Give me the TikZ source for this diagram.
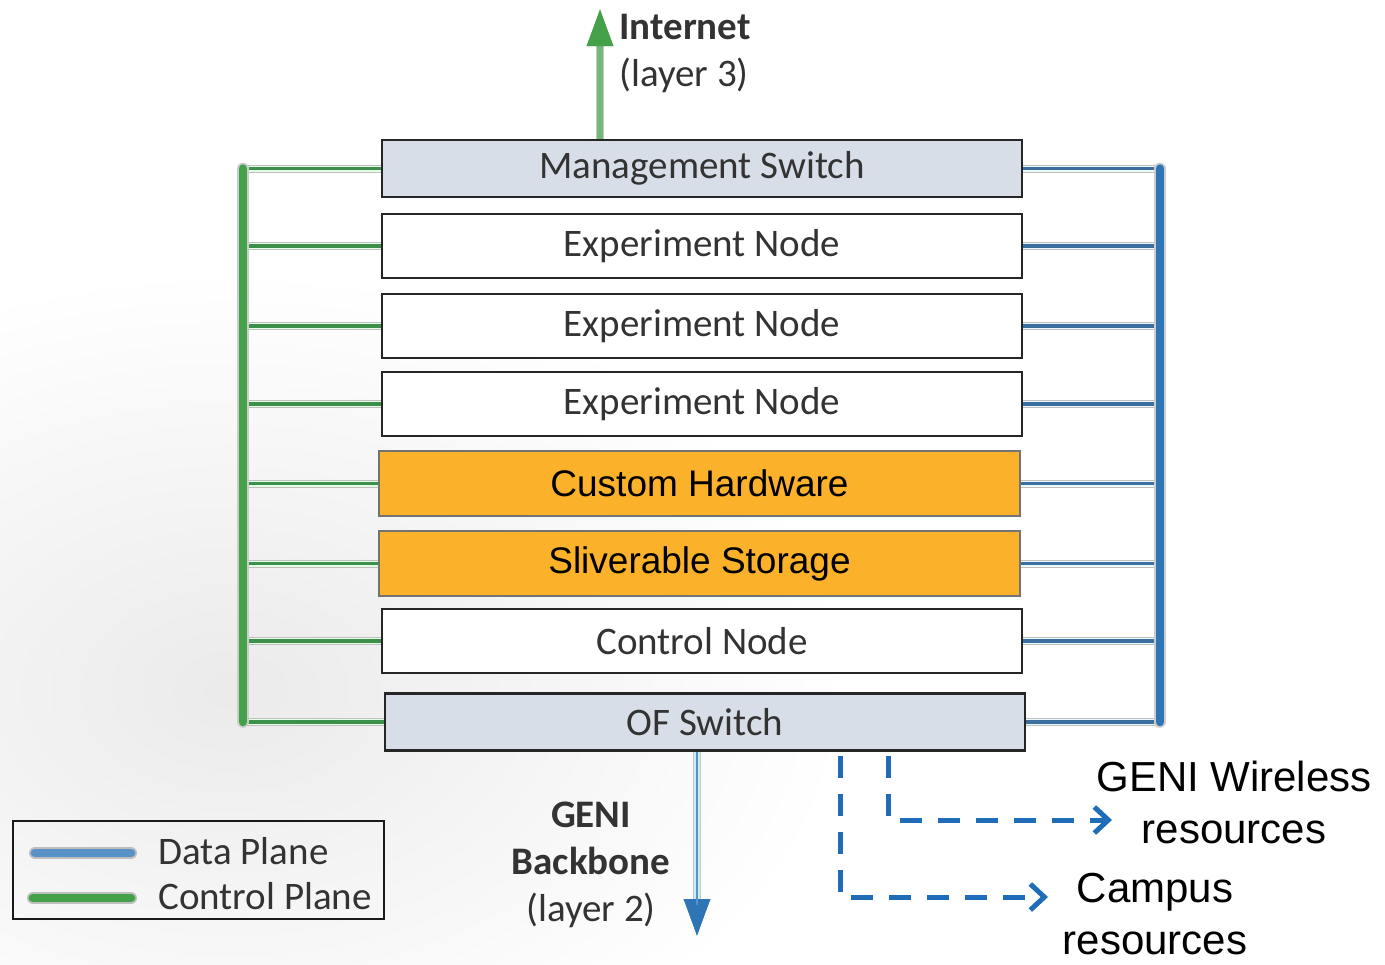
\documentclass[tikz,border=0pt]{standalone}
\usepackage{fontspec}
\setmainfont{Carlito}
\newfontfamily\arialfont{Liberation Sans}
\usetikzlibrary{arrows.meta}

\definecolor{swfill}{HTML}{D7DEE8}
\definecolor{hwfill}{HTML}{FBB12A}
\definecolor{cgreen}{HTML}{45A04A}
\definecolor{cgreendark}{HTML}{3D8F4C}
\definecolor{cblue}{HTML}{2E75B6}
\definecolor{cbluedark}{HTML}{3A6F9F}
\definecolor{dashblue}{HTML}{1F6DB8}
\definecolor{txt}{HTML}{333333}

\begin{document}
\begin{tikzpicture}[x=0.5pt, y=-0.5pt,
  labelfont/.style={font=\fontsize{19.5}{23.5}\selectfont, text=txt},
  rackbox/.style={draw=black!85, line width=1.3pt, minimum width=320pt,
    inner sep=0pt, labelfont},
  nodebox/.style={rackbox, fill=white, minimum height=32pt},
  switchbox/.style={rackbox, fill=swfill, minimum height=28.5pt},
  hwbox/.style={draw=black!55, line width=0.8pt, fill=hwfill, minimum width=320.5pt,
    minimum height=32.5pt, inner sep=0pt,
    font=\arialfont\fontsize{18.5}{22}\selectfont, text=black},
  gthin/.style={preaction={draw=gray!50, line width=4pt},
    preaction={draw=green!10, line width=3pt}, draw=cgreendark, line width=1.8pt},
  bthin/.style={preaction={draw=gray!50, line width=4pt},
    preaction={draw=cyan!8, line width=3pt}, draw=cbluedark, line width=1.8pt},
  gbus/.style={preaction={draw=gray!40, line width=5.8pt, line cap=round},
    draw=cgreen, line width=4.2pt, line cap=round},
  bbus/.style={preaction={draw=gray!40, line width=5.8pt, line cap=round},
    draw=cblue, line width=4.2pt, line cap=round},
  dashlink/.style={draw=dashblue, line width=2.5pt, dash pattern=on 11pt off 8pt,
    -{Straight Barb[length=7pt, width=13pt, line width=2.5pt]}}
]
\useasboundingbox (0,0) rectangle (1385,964);

% soft backdrop
\shade[inner color=gray!16, outer color=white] (230,690) ellipse [x radius=620, y radius=420];

% rack contents
\node[switchbox] (ms) at (702,168.5) {Management Switch};
\node[nodebox]   (e1) at (702,246)   {Experiment Node};
\node[nodebox]   (e2) at (702,326)   {Experiment Node};
\node[nodebox]   (e3) at (702,404)   {Experiment Node};
\node[hwbox]     (ch) at (699.5,483.5) {Custom Hardware};
\node[hwbox]     (ss) at (699.5,563.5) {Sliverable Storage};
\node[nodebox]   (cn) at (702,641)   {Control Node};
\node[switchbox] (of) at (705,722)   {OF Switch};

% bus positions
\coordinate (gb) at (243,0);
\coordinate (bb) at (1160,0);

% control plane (left)
\foreach \n in {ms,e1,e2,e3,ch,ss,cn,of}
  \draw[gthin] (\n.west) -- (\n.west -| gb);
\draw[gbus] (ms.west -| gb) -- (of.west -| gb);

% data plane (right)
\foreach \n in {ms,e1,e2,e3,ch,ss,cn,of}
  \draw[bthin] (\n.east) -- (\n.east -| bb);
\draw[bbus] (ms.east -| bb) -- (of.east -| bb);

% uplink to the Internet
\coordinate (inet) at (600,8);
\draw[preaction={draw=gray!45, line width=4.4pt}, draw=cgreen!75!white, line width=3.4pt,
  -{Triangle[length=19pt, width=12pt, color=cgreen]}]
  (ms.north -| inet) -- (inet);
\node[labelfont, anchor=north west, align=left, inner sep=0pt] (inettxt) at (619,14)
  {\textbf{Internet}\\(layer 3)};

% downlink to the backbone
\coordinate (bone) at (697,937);
\draw[preaction={draw=gray!45, line width=4.4pt}, draw=cyan!22!white, line width=3.4pt,
  -{Triangle[length=19pt, width=12pt, color=cblue]}]
  (of.south -| bone) -- (bone);
\draw[draw=cblue!80, line width=1pt] (of.south -| bone) -- (697,905);
\node[labelfont, align=center, inner sep=0pt] (bonetxt) at (591,865)
  {\textbf{GENI}\\\textbf{Backbone}\\(layer 2)};

% dashed links to outside resources
\coordinate (cdrop) at (840,0);
\coordinate (wdrop) at (888,0);
\coordinate (campus) at (1048,897);
\coordinate (wless) at (1112,820);
\draw[dashlink] ([yshift=-2pt]of.south -| cdrop) |- (campus);
\draw[dashlink] ([yshift=-2pt]of.south -| wdrop) |- (wless);
\node[font=\arialfont\fontsize{21}{26}\selectfont, align=center, inner sep=0pt]
  (wtxt) at (1234,802) {GENI Wireless\\resources};
\node[font=\arialfont\fontsize{21}{26}\selectfont, align=center, inner sep=0pt]
  (ctxt) at (1155,914) {Campus\\resources};

% legend
\node[draw=black!90, line width=1pt, minimum width=185.5pt, minimum height=49pt,
  inner sep=0pt] (legend) at (198.5,870) {};
\coordinate (l1a) at (35,853);  \coordinate (l1b) at (131,853);
\coordinate (l2a) at (33,898);  \coordinate (l2b) at (131,898);
\draw[preaction={draw=gray!50, line width=6pt, line cap=round},
  draw=cblue!80!white, line width=4.4pt, line cap=round] (l1a) -- (l1b);
\draw[preaction={draw=gray!50, line width=6pt, line cap=round},
  draw=cgreen, line width=4.4pt, line cap=round] (l2a) -- (l2b);
\node[labelfont, anchor=west, inner sep=0pt] (ldata) at (158,851) {Data Plane};
\node[labelfont, anchor=west, inner sep=0pt] (lctrl) at (158,896) {Control Plane};
\end{tikzpicture}
\end{document}
